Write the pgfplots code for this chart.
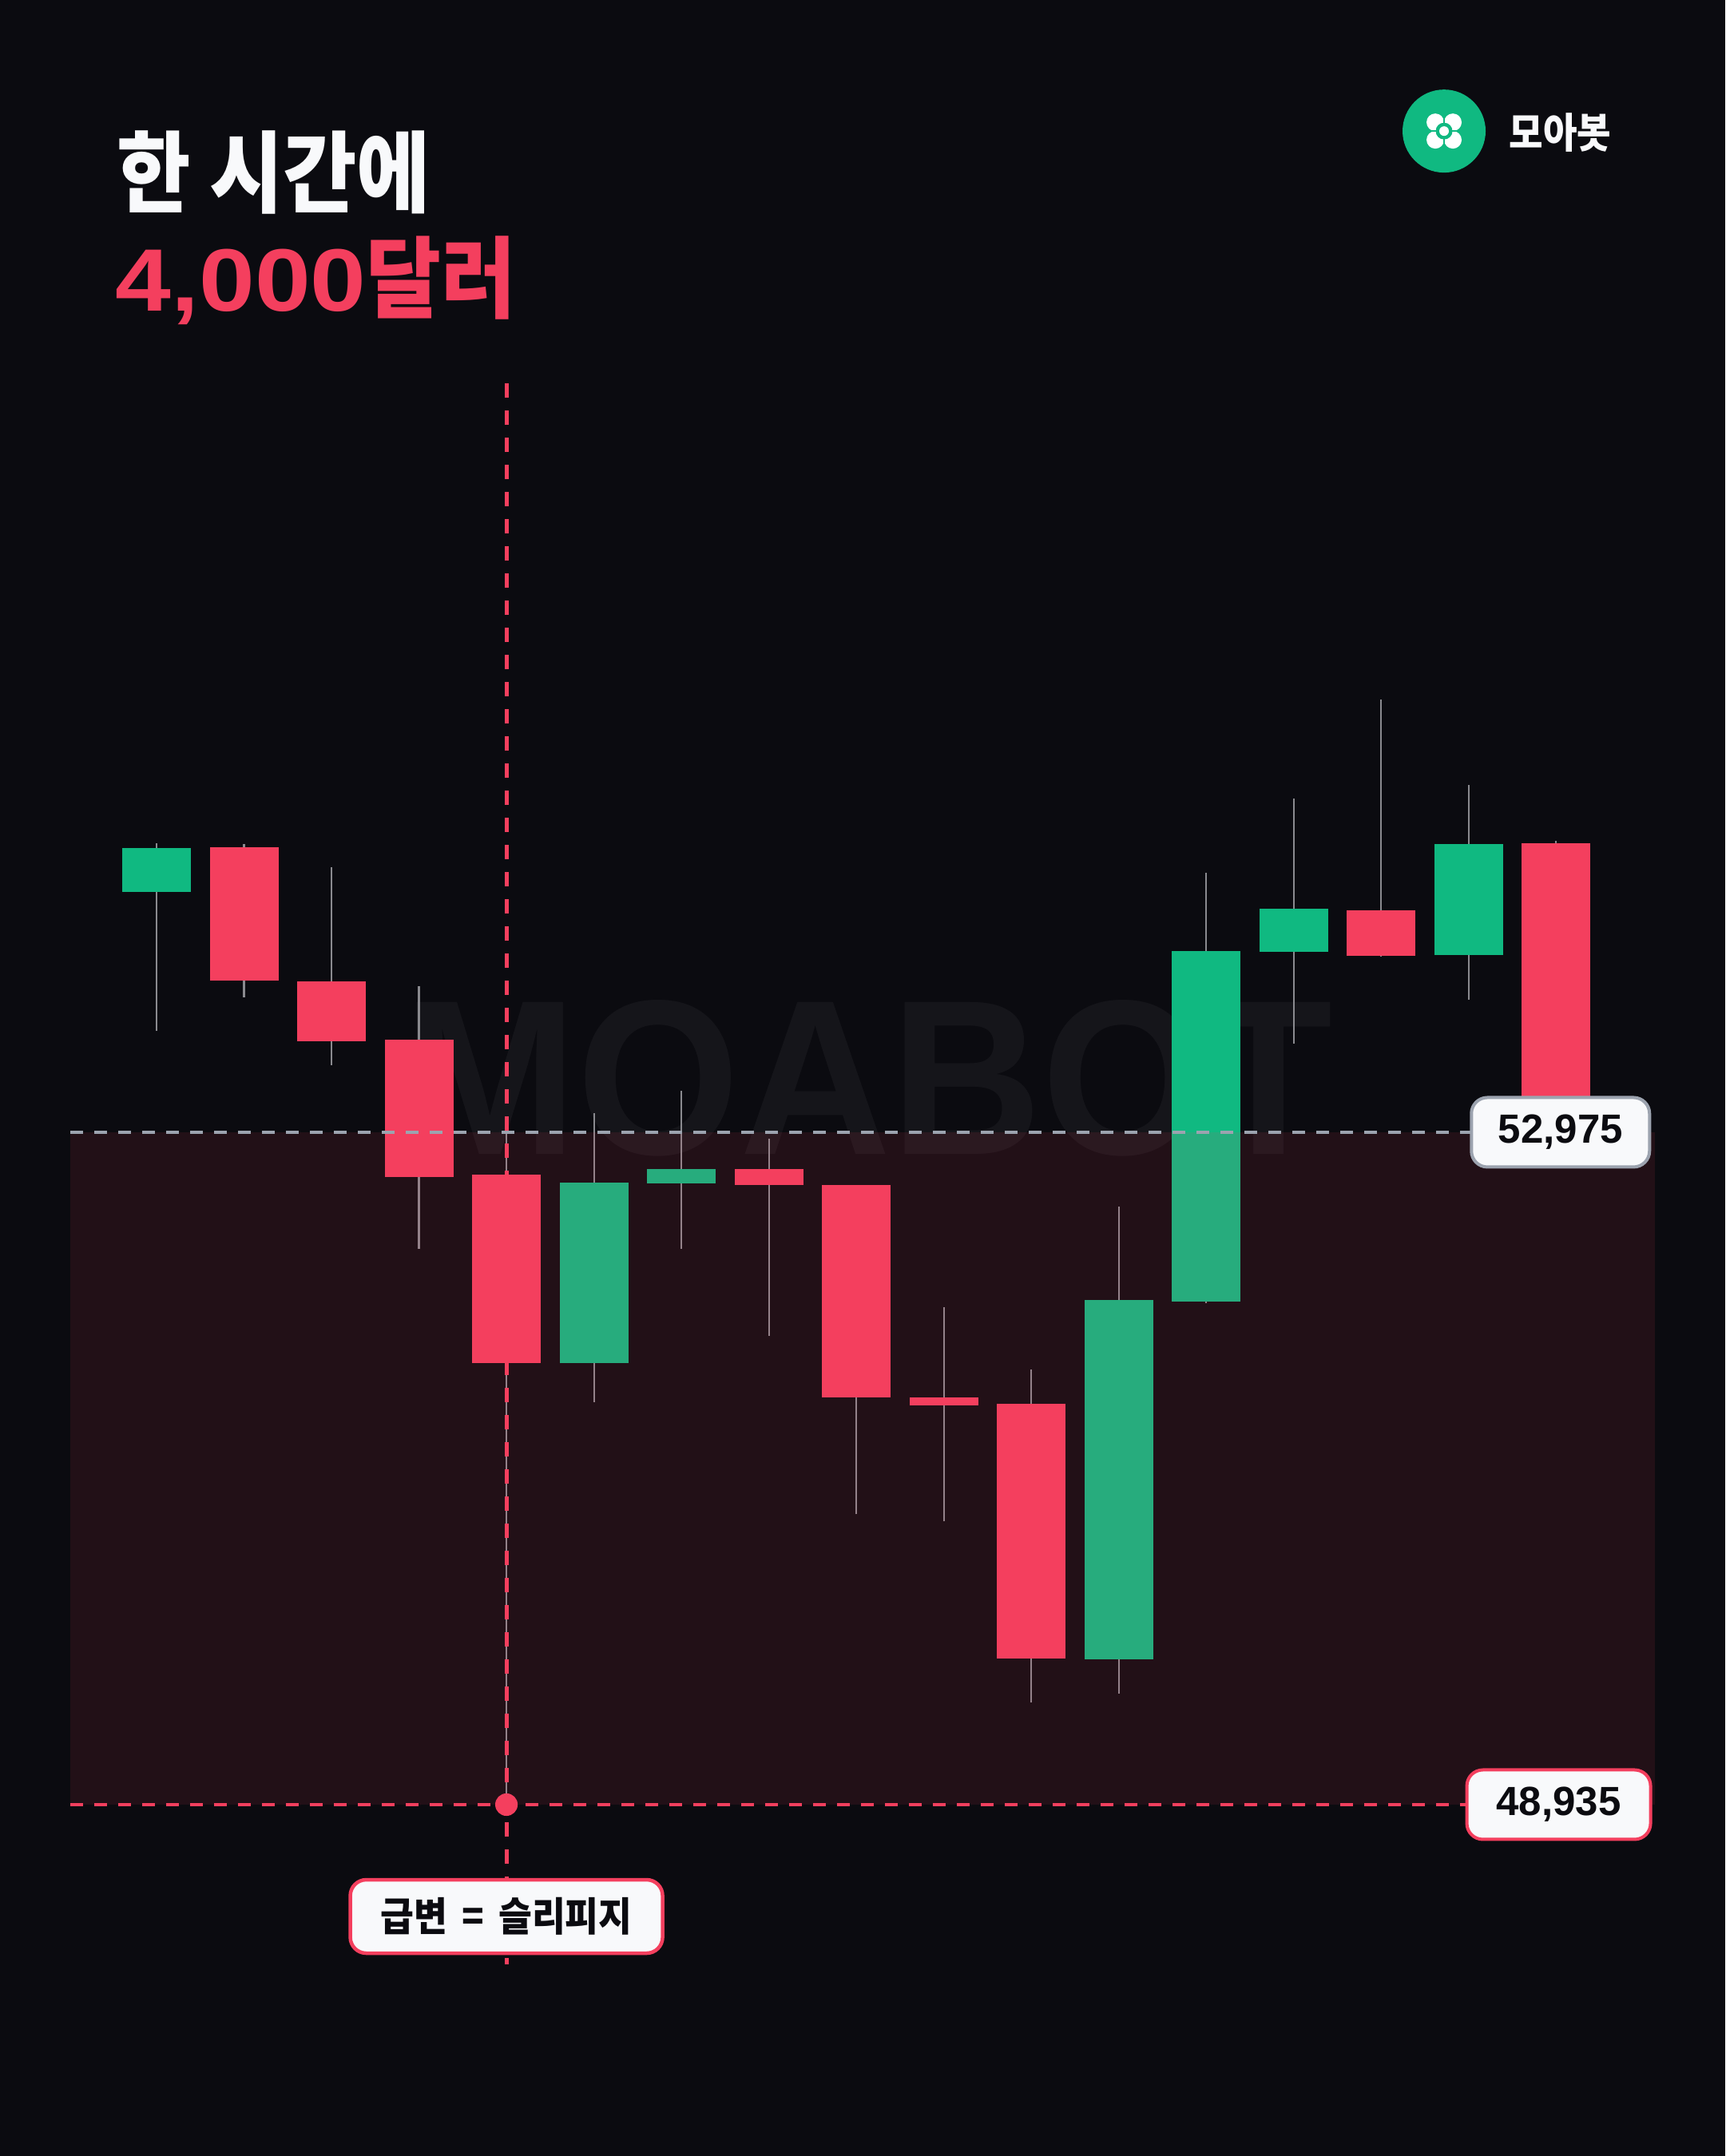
\documentclass[border=0pt]{standalone}
\usepackage{pgfplots}
\pgfplotsset{compat=1.18}
\usepackage{graphicx}
\usepackage{fontspec}
\setmainfont{Liberation Sans}
\newfontfamily\kr{Noto Sans CJK KR}
\definecolor{bg}{HTML}{0B0B10}
\definecolor{up}{HTML}{10B981}
\definecolor{dn}{HTML}{F43F5E}
\definecolor{wick}{HTML}{8A8A8F}
\definecolor{lblfill}{HTML}{F8F9FB}
\definecolor{lblgray}{HTML}{9CA3AF}
\definecolor{ink}{HTML}{0B0B10}
\definecolor{ttl}{HTML}{F8F9FB}
\begin{document}
\begin{tikzpicture}
\fill[bg] (0,0) rectangle (21.6,27);
% watermark
\node[anchor=center, inner sep=0, text=white, text opacity=0.045] at (10.865,13.50)
  {\scalebox{0.948}[1]{\bfseries\fontsize{2.765cm}{3cm}\selectfont MOABOT}};
% title
\node[anchor=base west, inner sep=0, text=ttl] at (1.46,24.42)
  {\scalebox{0.905}[1]{\kr\bfseries\fontsize{1.11cm}{1.3cm}\selectfont 한 시간에}};
\node[anchor=base west, inner sep=0, text=dn] at (1.44,23.10)
  {\scalebox{1.13}[1]{\bfseries\fontsize{1.11cm}{1.3cm}\selectfont 4,000}\scalebox{0.92}[1]{\kr\bfseries\fontsize{1.11cm}{1.3cm}\selectfont 달러}};
% logo
\fill[up] (18.08,25.358) circle (0.52);
\fill[white] (17.97,25.468) circle (0.11);
\fill[white] (18.19,25.468) circle (0.11);
\fill[white] (17.97,25.248) circle (0.11);
\fill[white] (18.19,25.248) circle (0.11);
\draw[up, line width=0.025cm] (18.08,25.13) -- (18.08,25.586);
\draw[up, line width=0.025cm] (17.852,25.358) -- (18.308,25.358);
\fill[up] (18.08,25.358) circle (0.105);
\fill[white] (18.08,25.358) circle (0.06);
\node[anchor=base west, inner sep=0, text=ttl] at (18.89,25.14)
  {\scalebox{0.89}[1]{\kr\bfseries\fontsize{0.52cm}{0.6cm}\selectfont 모아봇}};

\begin{axis}[at={(0.88cm,2.243cm)}, anchor=south west, scale only axis,
  width=19.84cm, height=20.008cm, xmin=0.0137, xmax=18.13, ymin=47900, ymax=57500,
  hide axis, clip=false, unbounded coords=jump]
% wicks (low, high)
\addplot[wick, line width=0.022cm, mark=none] coordinates {
 (1,53585)(1,54712) (1,nan)
 (2,53787)(2,54707) (2,nan)
 (3,53380)(3,54568) (3,nan)
 (4,52276)(4,53853) (4,nan)
 (5,48935)(5,53013) (5,nan)
 (6,51354)(6,53089) (6,nan)
 (7,52276)(7,53225) (7,nan)
 (8,51752)(8,52937) (8,nan)
 (9,50679)(9,52658) (9,nan)
 (10,50636)(10,51924) (10,nan)
 (11,49550)(11,51550) (11,nan)
 (12,49604)(12,52530) (12,nan)
 (13,51950)(13,54534) (13,nan)
 (14,53509)(14,54981) (14,nan)
 (15,54032)(15,55576) (15,nan)
 (16,53773)(16,55062) (16,nan)
 (17,52975)(17,54726)
};
% rising bodies (open, close)
\addplot[up, line width=0.86cm, mark=none] coordinates {
 (1,54421)(1,54683) (1,nan)
 (6,51586)(6,52673) (6,nan)
 (7,52669)(7,52753) (7,nan)
 (12,49809)(12,51967) (12,nan)
 (13,51959)(13,54064) (13,nan)
 (14,54061)(14,54318) (14,nan)
 (16,54042)(16,54707)
};
% falling bodies (open, close)
\addplot[dn, line width=0.86cm, mark=none] coordinates {
 (2,54689)(2,53888) (2,nan)
 (3,53882)(3,53524) (3,nan)
 (4,53532)(4,52707) (4,nan)
 (5,52720)(5,51587) (5,nan)
 (8,52753)(8,52660) (8,nan)
 (9,52658)(9,51382) (9,nan)
 (10,51382)(10,51335) (10,nan)
 (11,51344)(11,49814) (11,nan)
 (15,54309)(15,54037) (15,nan)
 (17,54712)(17,52975)
};
% slippage zone
\addplot[fill=dn, fill opacity=0.1, draw=none, mark=none] coordinates {
 (0.0137,48935) (18.13,48935) (18.13,52975) (0.0137,52975)} -- cycle;
% level lines
\addplot[lblgray, line width=0.04cm, dash pattern=on 0.16cm off 0.14cm, mark=none]
  coordinates {(0.0137,52975) (16.6,52975)};
\addplot[dn, line width=0.04cm, dash pattern=on 0.16cm off 0.14cm, mark=none]
  coordinates {(0.0137,48935) (16.6,48935)};
\addplot[dn, line width=0.05cm, dash pattern=on 0.18cm off 0.16cm, mark=none]
  coordinates {(5,57475) (5,47976)};
\addplot[only marks, mark=*, mark size=3.8pt, color=dn, mark options={draw=dn, fill=dn}]
  coordinates {(5,48935)};
% labels
\node[fill=lblfill, draw=lblgray, line width=0.04cm, rounded corners=0.2cm,
  minimum width=2.23cm, minimum height=0.87cm, inner sep=0, text=ink,
  font=\bfseries\fontsize{0.51cm}{0.6cm}\selectfont] at (axis cs:17.05,52975) {52,975};
\node[fill=lblfill, draw=dn, line width=0.04cm, rounded corners=0.2cm,
  minimum width=2.30cm, minimum height=0.87cm, inner sep=0, text=ink,
  font=\bfseries\fontsize{0.51cm}{0.6cm}\selectfont] at (axis cs:17.03,48935) {48,935};
\node[fill=lblfill, draw=dn, line width=0.045cm, rounded corners=0.2cm,
  minimum width=3.91cm, minimum height=0.92cm, inner sep=0, text=ink]
  at (axis cs:5,48263) {\scalebox{0.91}[1]{\kr\bfseries\fontsize{0.5cm}{0.6cm}\selectfont 급변\hspace{0.2cm}=\hspace{0.2cm}슬리피지}};
\end{axis}
\end{tikzpicture}
\end{document}
